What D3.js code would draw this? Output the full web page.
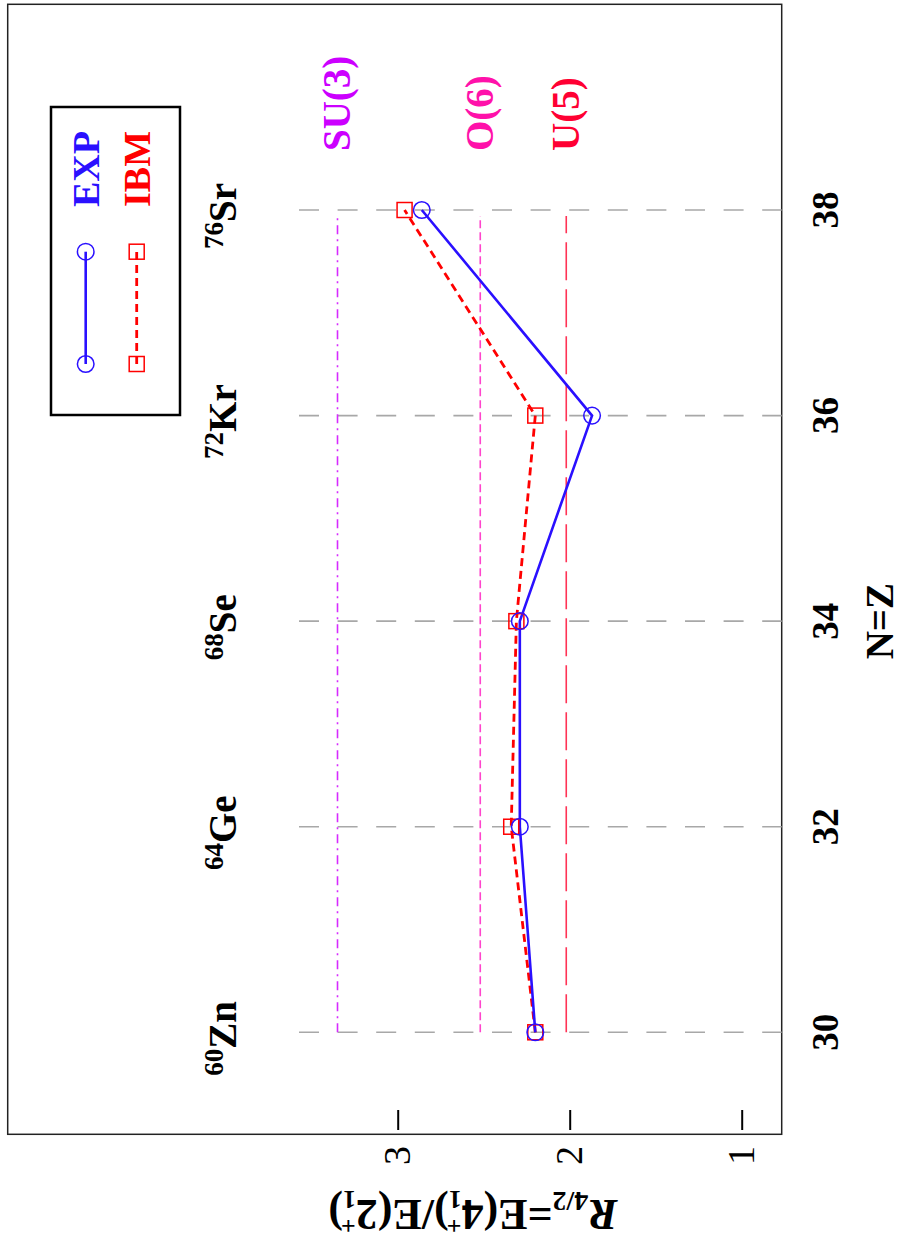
<!DOCTYPE html>
<html>
<head>
<meta charset="utf-8">
<script src="https://cdn.jsdelivr.net/npm/d3@7/dist/d3.min.js"></script>
<style>
html,body{margin:0;padding:0;background:#fff;}
svg{display:block;}
text{font-family:"Liberation Serif","Times New Roman","DejaVu Serif",serif;}
</style>
</head>
<body>
<script>
// ---- data ----
const N = [30, 32, 34, 36, 38];
const massNumbers = ["60", "64", "68", "72", "76"];
const elements = ["Zn", "Ge", "Se", "Kr", "Sr"];
const expValues = [2.20, 2.29, 2.29, 1.87, 2.86];
const ibmValues = [2.20, 2.34, 2.31, 2.20, 2.96];
const limitNames = ["SU(3)", "O(6)", "U(5)"];
const limitValues = [3.35, 2.52, 2.02];
const yTicks = [1, 2, 3];
const xTicks = [30, 32, 34, 36, 38];

// ---- layout (landscape, then rotated) ----
const PW = 902, PH = 1243;
const svg = d3.select("body").append("svg").attr("width", PW).attr("height", PH);
svg.append("rect").attr("width", PW).attr("height", PH).attr("fill", "#fff");
const g = svg.append("g").attr("transform", `translate(0,${PH}) rotate(-90)`);

const x = d3.scaleLinear().domain([30, 38]).range([210.7, 1033]);
const y = d3.scaleLinear().domain([1, 3]).range([741.7, 397.7]);

const frame = {x0: 108.7, x1: 1238.7, y0: 7.7, y1: 781.7};

// frame
g.append("rect").attr("x", frame.x0).attr("y", frame.y0)
  .attr("width", frame.x1 - frame.x0).attr("height", frame.y1 - frame.y0)
  .attr("fill", "none").attr("stroke", "#222").attr("stroke-width", 1.5);

// vertical gray dashed grid lines at each N
g.append("g").selectAll("line").data(xTicks).join("line")
  .attr("x1", d => x(d)).attr("x2", d => x(d))
  .attr("y1", 299).attr("y2", frame.y1)
  .attr("stroke", "#a8a8a8").attr("stroke-width", 1.6)
  .attr("stroke-dasharray", "20,18.6");

// limit lines
const limitStyle = [
  {stroke: "#d62bff", dash: "9,5,2,5", text: "#cc00ff", w: 1.6},
  {stroke: "#ff44cc", dash: "8,4", text: "#ff11aa", w: 1.6},
  {stroke: "#ff3355", dash: "38,9", text: "#ff0033", w: 1.6}
];
limitValues.forEach((v, i) => {
  g.append("line")
    .attr("x1", x(30)).attr("x2", x(38) - 6)
    .attr("y1", y(v)).attr("y2", y(v))
    .attr("stroke", limitStyle[i].stroke).attr("stroke-width", limitStyle[i].w)
    .attr("stroke-dasharray", limitStyle[i].dash);
  g.append("text").attr("x", 1092).attr("y", y(v)).attr("dy", "0.33em")
    .attr("font-size", 39).attr("font-weight", "bold")
    .attr("fill", limitStyle[i].text).text(limitNames[i]);
});

// y axis (ticks inside frame)
const yAxis = d3.axisLeft(y).tickValues(yTicks).tickSize(-20).tickPadding(16).tickFormat(d3.format("d"));
const ya = g.append("g").attr("transform", `translate(113,0)`).call(yAxis);
ya.select(".domain").remove();
ya.selectAll(".tick line").attr("stroke", "#000").attr("stroke-width", 2);
ya.selectAll(".tick text").attr("font-size", 38).attr("font-family", '"Liberation Serif","Times New Roman",serif').attr("fill", "#000");

// x tick labels
g.append("g").selectAll("text").data(xTicks).join("text")
  .attr("x", d => x(d)).attr("y", 838)
  .attr("text-anchor", "middle").attr("font-size", 37).attr("font-weight", "bold")
  .text(d => d);

// axis titles
g.append("text").attr("x", x(34)).attr("y", 893)
  .attr("text-anchor", "middle").attr("font-size", 39).attr("font-weight", "bold")
  .text("N=Z");

const yt = g.append("text").attr("transform", `translate(43,473) rotate(-90)`)
  .attr("text-anchor", "middle").attr("font-size", 44).attr("font-weight", "bold");
yt.append("tspan").attr("font-style", "italic").text("R");
yt.append("tspan").attr("font-size", 28).attr("dy", 8).text("4/2");
yt.append("tspan").attr("dy", -8).text("=E(4");
yt.append("tspan").attr("font-size", 26).attr("dy", -17).text("+");
yt.append("tspan").attr("font-size", 26).attr("dx", -15).attr("dy", 26).text("1");
yt.append("tspan").attr("dy", -9).text(")/E(2");
yt.append("tspan").attr("font-size", 26).attr("dy", -17).text("+");
yt.append("tspan").attr("font-size", 26).attr("dx", -15).attr("dy", 26).text("1");
yt.append("tspan").attr("dy", -9).text(")");

// nuclide labels
const nl = g.append("g").selectAll("text").data(N).join("text")
  .attr("x", d => x(d) - 6).attr("y", 236)
  .attr("text-anchor", "middle").attr("font-weight", "bold");
nl.append("tspan").attr("font-size", 27).attr("dy", -13).text((d, i) => massNumbers[i]);
nl.append("tspan").attr("font-size", 39).attr("dy", 13).text((d, i) => elements[i]);

// data lines
const expColor = "#2a10ff", ibmColor = "#ff0000";
const line = d3.line().x(d => x(d[0])).y(d => y(d[1]));
const expPts = N.map((n, i) => [n, expValues[i]]);
const ibmPts = N.map((n, i) => [n, ibmValues[i]]);

g.append("path").attr("d", line(ibmPts)).attr("fill", "none")
  .attr("stroke", ibmColor).attr("stroke-width", 2.8).attr("stroke-dasharray", "8,5");
g.append("path").attr("d", line(expPts)).attr("fill", "none")
  .attr("stroke", expColor).attr("stroke-width", 2.6);

g.append("g").selectAll("rect").data(ibmPts).join("rect")
  .attr("x", d => x(d[0]) - 7.5).attr("y", d => y(d[1]) - 7.5)
  .attr("width", 15).attr("height", 15)
  .attr("fill", "none").attr("stroke", ibmColor).attr("stroke-width", 1.5);
g.append("g").selectAll("circle").data(expPts).join("circle")
  .attr("cx", d => x(d[0])).attr("cy", d => y(d[1])).attr("r", 8.3)
  .attr("fill", "none").attr("stroke", expColor).attr("stroke-width", 1.5);

// legend
const lg = g.append("g");
lg.append("rect").attr("x", 828).attr("y", 51).attr("width", 308).attr("height", 129)
  .attr("fill", "#fff").attr("stroke", "#000").attr("stroke-width", 2.5);
lg.append("line").attr("x1", 879).attr("x2", 991.3).attr("y1", 85.7).attr("y2", 85.7)
  .attr("stroke", expColor).attr("stroke-width", 2.6);
[879, 991.3].forEach(px => lg.append("circle").attr("cx", px).attr("cy", 85.7).attr("r", 8.3)
  .attr("fill", "none").attr("stroke", expColor).attr("stroke-width", 1.5));
lg.append("line").attr("x1", 879).attr("x2", 991.3).attr("y1", 136.7).attr("y2", 136.7)
  .attr("stroke", ibmColor).attr("stroke-width", 2.8).attr("stroke-dasharray", "8,5");
[879, 991.3].forEach(px => lg.append("rect").attr("x", px - 7.5).attr("y", 136.7 - 7.5)
  .attr("width", 15).attr("height", 15)
  .attr("fill", "none").attr("stroke", ibmColor).attr("stroke-width", 1.5));
lg.append("text").attr("x", 1036).attr("y", 99).attr("font-size", 38).attr("font-weight", "bold")
  .attr("fill", expColor).text("EXP");
lg.append("text").attr("x", 1036).attr("y", 150).attr("font-size", 38).attr("font-weight", "bold")
  .attr("fill", ibmColor).text("IBM");
</script>
</body>
</html>
